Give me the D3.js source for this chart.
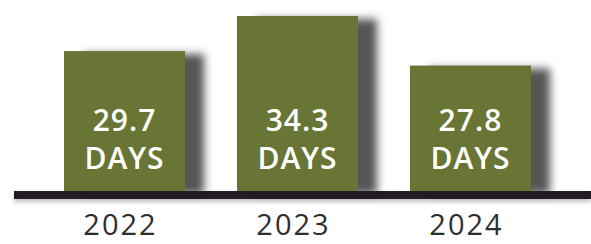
<!DOCTYPE html>
<html>
<head>
<meta charset="utf-8">
<script src="https://cdn.jsdelivr.net/npm/d3@7"></script>
<style>
  html, body { margin: 0; padding: 0; background: #fff; }
</style>
</head>
<body>
<div id="chart"></div>
<script>
const years = ["2022", "2023", "2024"];
const days = [29.7, 34.3, 27.8];
const unitLabel = "DAYS";

const width = 591, height = 244;
const baseY = 191;

const svg = d3.select("#chart")
    .append("svg")
    .attr("width", width)
    .attr("height", height);

const defs = svg.append("defs");
defs.append("filter")
    .attr("id", "barShadow")
    .attr("x", "-20%").attr("y", "-20%")
    .attr("width", "160%").attr("height", "140%")
    .append("feDropShadow")
    .attr("dx", 19).attr("dy", 3)
    .attr("stdDeviation", 4.5)
    .attr("flood-color", "#555557")
    .attr("flood-opacity", 1);

defs.append("filter")
    .attr("id", "lineShadow")
    .attr("x", "-5%").attr("y", "-100%")
    .attr("width", "110%").attr("height", "400%")
    .append("feDropShadow")
    .attr("dx", 0).attr("dy", 3)
    .attr("stdDeviation", 2)
    .attr("flood-color", "#888")
    .attr("flood-opacity", 0.5);

const x = d3.scaleBand()
    .domain(years)
    .range([64, 531])
    .paddingInner(0.3)
    .paddingOuter(0);

// axis does not start at zero in the original graphic
const y = d3.scaleLinear()
    .domain([11.35, 34.3])
    .range([baseY, 16]);

const data = years.map((yr, i) => ({ year: yr, value: days[i] }));

svg.selectAll(".bar")
    .data(data)
    .enter()
    .append("rect")
    .attr("class", "bar")
    .attr("x", d => x(d.year))
    .attr("y", d => y(d.value))
    .attr("width", x.bandwidth())
    .attr("height", d => baseY - y(d.value))
    .attr("fill", "#687534")
    .attr("filter", "url(#barShadow)");

svg.append("rect")
    .attr("x", 14)
    .attr("y", baseY)
    .attr("width", width - 14)
    .attr("height", 8)
    .attr("fill", "#231f20")
    .attr("filter", "url(#lineShadow)");

const labels = svg.selectAll(".val")
    .data(data)
    .enter()
    .append("text")
    .attr("class", "val")
    .attr("text-anchor", "middle")
    .attr("fill", "#fff")
    .style("font-family", "'Open Sans', sans-serif")
    .style("font-weight", 600)
    .style("font-size", "30px")
    .style("letter-spacing", "1px");

labels.append("tspan")
    .attr("x", d => x(d.year) + x.bandwidth() / 2)
    .attr("y", 131)
    .text(d => d3.format(".1f")(d.value));

labels.append("tspan")
    .attr("x", d => x(d.year) + x.bandwidth() / 2)
    .attr("y", 169)
    .text(unitLabel);

svg.selectAll(".year")
    .data(data)
    .enter()
    .append("text")
    .attr("class", "year")
    .attr("x", d => x(d.year) + x.bandwidth() / 2 - 4)
    .attr("y", 235)
    .attr("text-anchor", "middle")
    .attr("fill", "#2e2e2e")
    .style("font-family", "'Open Sans', sans-serif")
    .style("font-weight", 400)
    .style("font-size", "29px")
    .style("letter-spacing", "2px")
    .text(d => d.year);
</script>
</body>
</html>
